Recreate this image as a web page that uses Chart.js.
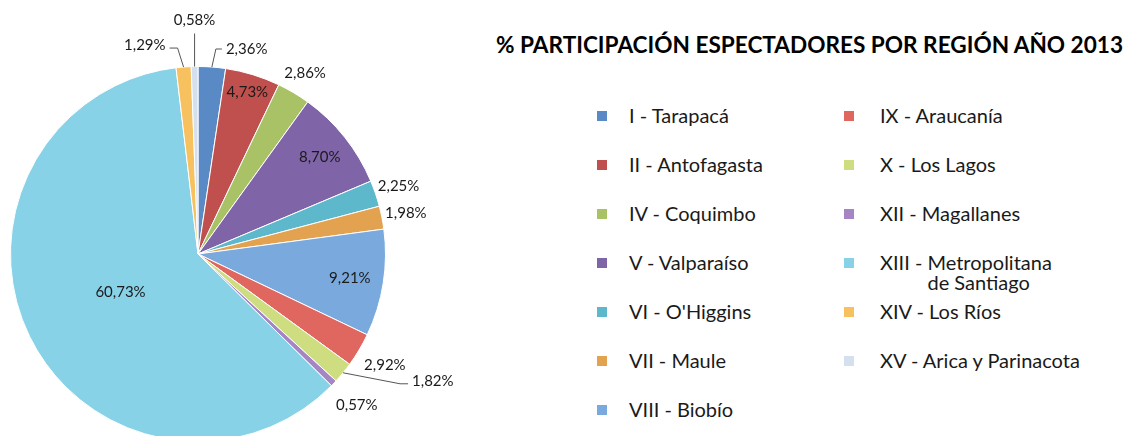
<!DOCTYPE html>
<html lang="es">
<head>
<meta charset="utf-8">
<script src="https://cdn.jsdelivr.net/npm/chart.js@4"></script>
<style>
  html, body { margin: 0; padding: 0; background: #fff; overflow: hidden; }
  body { width: 1125px; height: 436px; position: relative; font-family: Lato, "Open Sans", sans-serif; color: #1a1a1a; }
  #pie-wrap { position: absolute; left: 0; top: 0; width: 480px; height: 460px; }
  #title { position: absolute; left: 496px; top: 31px; font-size: 22.6px; font-weight: bold; color: #000; white-space: nowrap; }
  .leg { position: absolute; font-size: 20px; line-height: 20px; white-space: nowrap; }
  .leg .sw { position: absolute; width: 10px; height: 10px; }
</style>
</head>
<body>
<div id="pie-wrap"><canvas id="pie"></canvas></div>
<div id="title">% PARTICIPACIÓN ESPECTADORES POR REGIÓN AÑO 2013</div>
<div id="legend"></div>
<script>
// Regions in drawing order (clockwise from 12 o'clock)
const regions = [
  'I - Tarapacá', 'II - Antofagasta', 'IV - Coquimbo', 'V - Valparaíso',
  "VI - O'Higgins", 'VII - Maule', 'VIII - Biobío', 'IX - Araucanía',
  'X - Los Lagos', 'XII - Magallanes', 'XIII - Metropolitana\nde Santiago',
  'XIV - Los Ríos', 'XV - Arica y Parinacota'
];
const shares = [2.36, 4.73, 2.86, 8.70, 2.25, 1.98, 9.21, 2.92, 1.82, 0.57, 60.73, 1.29, 0.58];
const colors = [
  '#5a8ac6', '#c0504d', '#a9c266', '#8064a8', '#5eb8cc', '#e3a24f', '#7aa9de',
  '#e0675f', '#cddd80', '#a585c4', '#87d2e6', '#f7c160', '#d5e0ef'
];

// label placement per slice: inside/outside radius factor, or leader line
const labelStyle = [
  { lead: [[4, -18], [10, -18]], align: 'left', dx: 4 },
  { r: 0.9 },
  { r: 1.12 },
  { r: 0.83 },
  { r: 1.13 },
  { r: 1.13 },
  { r: 0.82 },
  { r: 1.16 },
  { lead: [[57, 11], [65, 11]], align: 'left', dx: 4, dy: -3 },
  { r: 1.17 },
  { r: 0.46 },
  { lead: [[-6, -19], [-14, -19]], align: 'right', dx: -4, dy: -3 },
  { lead: [[0, -33]], align: 'center', dy: -13 }
];

const fmt = v => v.toFixed(2).replace('.', ',') + '%';

const sliceLabels = {
  id: 'sliceLabels',
  afterDatasetsDraw(chart) {
    const ctx = chart.ctx;
    const arcs = chart.getDatasetMeta(0).data;
    ctx.save();
    ctx.font = '15px Lato, "Open Sans", sans-serif';
    ctx.fillStyle = '#1a1a1a';
    ctx.strokeStyle = '#555';
    ctx.lineWidth = 1;
    ctx.textBaseline = 'middle';
    arcs.forEach((arc, i) => {
      const { x, y, startAngle, endAngle, outerRadius } = arc.getProps(['x', 'y', 'startAngle', 'endAngle', 'outerRadius'], true);
      const mid = (startAngle + endAngle) / 2;
      const st = labelStyle[i];
      const text = fmt(shares[i]);
      if (st.lead) {
        const ex = x + Math.cos(mid) * outerRadius;
        const ey = y + Math.sin(mid) * outerRadius;
        ctx.beginPath();
        ctx.moveTo(ex, ey);
        let lx = ex, ly = ey;
        st.lead.forEach(p => { lx = ex + p[0]; ly = ey + p[1]; ctx.lineTo(lx, ly); });
        ctx.stroke();
        ctx.textAlign = st.align;
        ctx.fillText(text, lx + (st.dx || 0), ly + (st.dy || 0));
      } else {
        ctx.textAlign = 'center';
        ctx.fillText(text, x + Math.cos(mid) * outerRadius * st.r, y + Math.sin(mid) * outerRadius * st.r);
      }
    });
    ctx.restore();
  }
};

new Chart(document.getElementById('pie'), {
  type: 'pie',
  data: {
    labels: regions,
    datasets: [{ data: shares, backgroundColor: colors, borderColor: '#fff', borderWidth: 1 }]
  },
  options: {
    responsive: true,
    maintainAspectRatio: false,
    animation: false,
    layout: { padding: { left: 10, top: 66, right: 94, bottom: 18 } },
    plugins: { legend: { display: false }, tooltip: { enabled: false } }
  },
  plugins: [sliceLabels]
});

// Legend: two columns, column-major
const legend = document.getElementById('legend');
const measure = document.createElement('canvas').getContext('2d');
measure.font = '20px Lato, "Open Sans", sans-serif';
const perCol = 7;
regions.forEach((name, i) => {
  const col = Math.floor(i / perCol), row = i % perCol;
  const el = document.createElement('div');
  el.className = 'leg';
  el.style.left = (col ? 880 : 629) + 'px';
  el.style.top = (105 + row * 49) + 'px';
  const lines = name.split('\n');
  let html = '<span class="sw" style="left:' + (col ? -36 : -32) + 'px;top:6px;background:' + colors[i] + '"></span>' + lines[0];
  if (lines[1]) {
    const indent = measure.measureText(lines[0].slice(0, lines[0].indexOf('- ') + 2)).width;
    html += '<br><span style="padding-left:' + indent + 'px">' + lines[1] + '</span>';
  }
  el.innerHTML = html;
  legend.appendChild(el);
});
</script>
</body>
</html>
